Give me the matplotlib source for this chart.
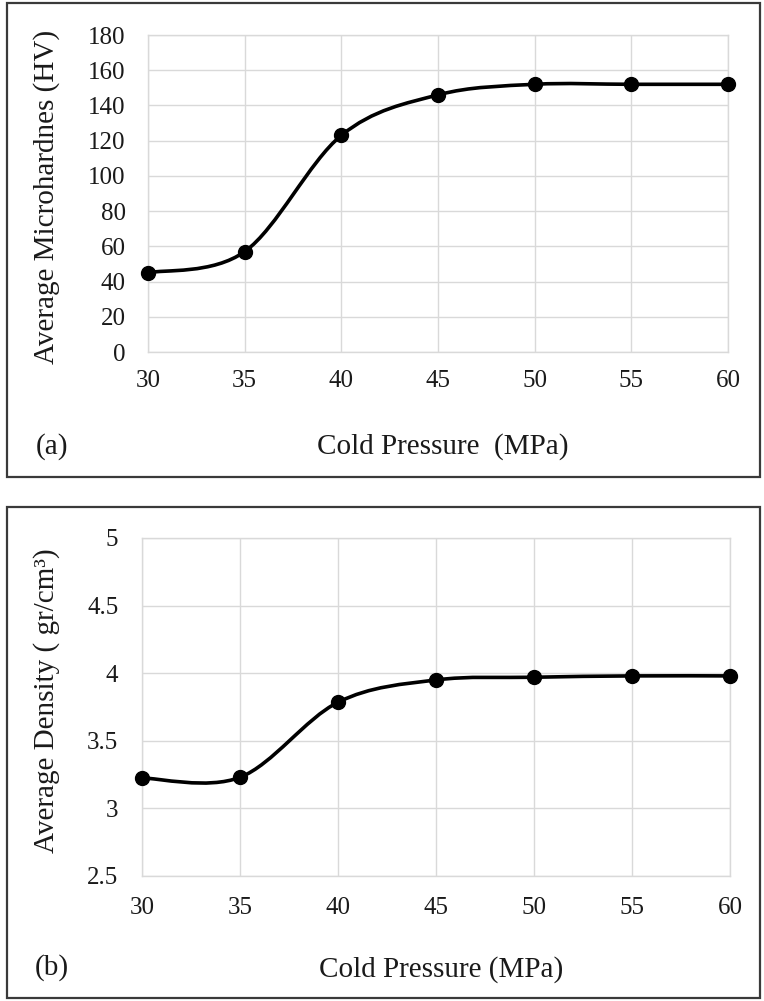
import numpy as np
import matplotlib
matplotlib.use("Agg")
import matplotlib.pyplot as plt
from matplotlib.path import Path
from matplotlib.patches import PathPatch, Rectangle

plt.rcParams['font.family'] = ['Liberation Serif', 'DejaVu Serif']

# ---------------- data ----------------
pressure = [30, 35, 40, 45, 50, 55, 60]
hardness = [45, 57, 123, 146, 152, 152, 152]
density = [3.225, 3.23, 3.785, 3.95, 3.97, 3.98, 3.98]

x_ticks = [30, 35, 40, 45, 50, 55, 60]
hard_ticks = [0, 20, 40, 60, 80, 100, 120, 140, 160, 180]
dens_ticks = [2.5, 3.0, 3.5, 4.0, 4.5, 5.0]
dens_tick_labels = ['2.5', '3', '3.5', '4', '4.5', '5']

xlabel_a = 'Cold Pressure  (MPa)'
xlabel_b = 'Cold Pressure (MPa)'
ylabel_a = 'Average Microhardnes (HV)'
ylabel_b = 'Average Density ( gr/cm\u00b3)'

W, H = 764, 1001
fig = plt.figure(figsize=(W / 100, H / 100), dpi=100)

GRID = '#d9d9d9'
TXT = '#1a1a1a'


def smooth_path(xs, ys):
    """Excel-style smoothed line: cubic Bezier through the data points."""
    pts = np.column_stack([xs, ys]).astype(float)
    n = len(pts)
    verts = [pts[0]]
    codes = [Path.MOVETO]
    for i in range(n - 1):
        p0 = pts[max(i - 1, 0)]
        p1 = pts[i]
        p2 = pts[i + 1]
        p3 = pts[min(i + 2, n - 1)]
        c1 = p1 + (p2 - p0) / 6.0
        c2 = p2 - (p3 - p1) / 6.0
        verts += [c1, c2, p2]
        codes += [Path.CURVE4] * 3
    return Path(verts, codes)


def make_axes(rect_px, xs, ys, yticks, ylim, ylabels, xpad, ypad):
    l, t, r, b = rect_px
    ax = fig.add_axes([l / W, 1 - b / H, (r - l) / W, (b - t) / H])
    ax.set_xlim(30, 60)
    ax.set_ylim(*ylim)
    ax.set_xticks(x_ticks)
    ax.set_yticks(yticks)
    if ylabels is not None:
        ax.set_yticklabels(ylabels)
    ax.grid(True, color=GRID, linewidth=1.0)
    ax.set_axisbelow(True)
    for s in ax.spines.values():
        s.set_color(GRID)
        s.set_linewidth(1.0)
    ax.tick_params(axis='both', length=0, labelsize=18, labelcolor=TXT)
    ax.tick_params(axis='x', pad=xpad)
    ax.tick_params(axis='y', pad=ypad)
    patch = PathPatch(smooth_path(xs, ys), facecolor='none', edgecolor='black',
                      linewidth=2.6, zorder=3, clip_on=False)
    ax.add_patch(patch)
    ax.plot(xs, ys, linestyle='none', marker='o', markersize=10,
            color='black', zorder=4, clip_on=False)
    return ax


# panel borders
for (l, t, r, b) in [(7, 3, 760, 477), (7, 507, 760, 998)]:
    fig.patches.append(Rectangle((l / W, 1 - b / H), (r - l) / W, (b - t) / H,
                                 transform=fig.transFigure, fill=False,
                                 edgecolor='#3a3a3a', linewidth=1.6))

ax1 = make_axes((148, 35, 728, 352), pressure, hardness, hard_ticks, (0, 180),
                None, xpad=13, ypad=16)
ax2 = make_axes((142, 538, 730, 876), pressure, density, dens_ticks, (2.5, 5.0),
                dens_tick_labels, xpad=15, ypad=17)

# axis titles and panel letters
fig.text(443 / W, 1 - 447 / H, xlabel_a, ha='center', va='center', fontsize=21, color=TXT)
fig.text(441 / W, 1 - 970 / H, xlabel_b, ha='center', va='center', fontsize=21, color=TXT)
fig.text(47 / W, 1 - 197 / H, ylabel_a, ha='center', va='center', rotation=90,
         fontsize=21, color=TXT)
fig.text(47 / W, 1 - 701 / H, ylabel_b, ha='center', va='center', rotation=90,
         fontsize=21, color=TXT)
fig.text(52 / W, 1 - 447 / H, '(a)', ha='center', va='center', fontsize=21, color=TXT)
fig.text(52 / W, 1 - 968 / H, '(b)', ha='center', va='center', fontsize=21, color=TXT)

fig.savefig('out.png', dpi=100, facecolor='white')
